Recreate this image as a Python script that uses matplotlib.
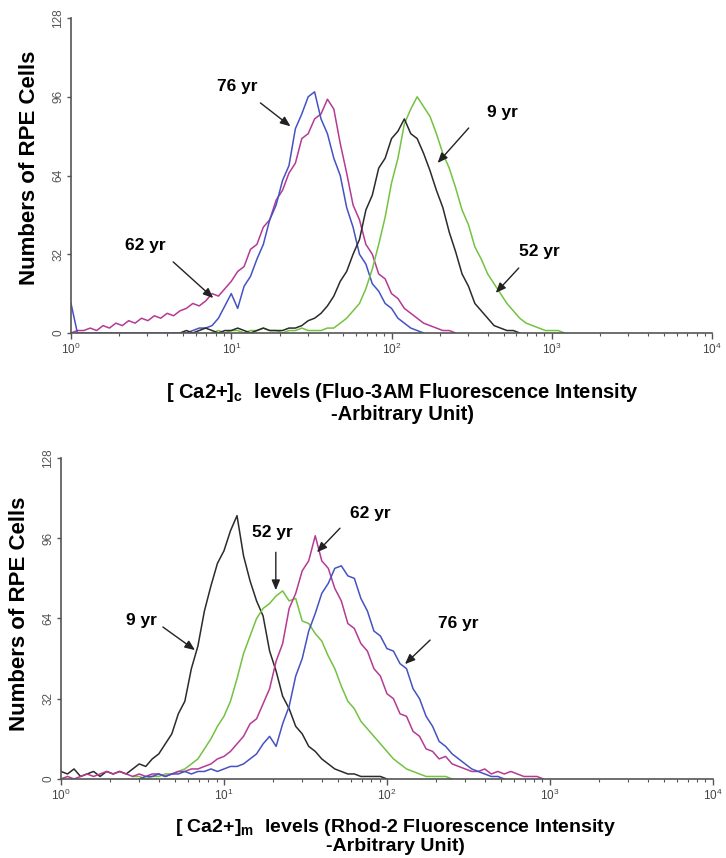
import matplotlib
import matplotlib.pyplot as plt
import numpy as np
from matplotlib.ticker import LogLocator, FixedLocator

matplotlib.use("Agg")

plt.rcParams["font.family"] = ["Liberation Sans", "DejaVu Sans"]
plt.rcParams["mathtext.fontset"] = "custom"
plt.rcParams["mathtext.rm"] = "Liberation Sans"
plt.rcParams["mathtext.bf"] = "Liberation Sans:bold"

# channel spacing of the histograms, in decades
STEP = 0.04

# ---- top panel: cytosolic Ca2+ (Fluo-3AM) ----
TOP_62_START = 0.0
TOP_62 = [0, 1, 1, 2, 1, 3, 2, 4, 3, 5, 4, 6, 5, 7, 6, 8, 7, 9, 10, 12, 11, 13,
          16, 15, 18, 21, 25, 27, 34, 36, 43, 46, 54, 58, 65, 69, 79, 81, 87, 89,
          95, 91, 77, 65, 52, 46, 36, 32, 24, 22, 16, 14, 10, 8, 6, 4, 3, 2, 1, 1, 0]
TOP_76_START = 0.0
TOP_76 = [12] + [0] * 18 + [1, 2, 2, 3, 6, 11, 16, 10, 19, 23, 30, 36, 46, 52, 62,
                            68, 83, 89, 96, 98, 87, 81, 71, 64, 51, 43, 32, 28, 20,
                            17, 12, 10, 6, 4, 2, 1, 0]
TOP_9_START = 0.68
TOP_9 = [0, 1, 0, 1, 2, 1, 0, 1, 1, 2, 1, 0, 1, 2, 1, 1, 1, 2, 2, 3, 5, 6, 8, 11,
         15, 21, 25, 32, 38, 50, 56, 67, 71, 79, 82, 87, 81, 79, 73, 66, 58, 51,
         41, 33, 24, 19, 12, 9, 6, 3, 2, 1, 1, 0]
TOP_52_START = 0.88
TOP_52 = [0, 1, 0, 1, 1, 0, 1, 1, 2, 1, 1, 0, 1, 1, 2, 1, 1, 1, 2, 2, 4, 6, 9, 12,
          18, 26, 36, 47, 61, 71, 85, 91, 96, 92, 88, 81, 73, 67, 59, 50, 44, 35,
          30, 24, 20, 16, 12, 9, 6, 4, 3, 2, 1, 1, 1, 0]

# ---- bottom panel: mitochondrial Ca2+ (Rhod-2) ----
BOT_9_START = 0.0
BOT_9 = [3, 2, 4, 1, 2, 3, 1, 3, 2, 3, 2, 4, 6, 5, 8, 10, 14, 18, 26, 31, 44, 53,
         67, 77, 86, 91, 99, 105, 89, 79, 71, 65, 51, 43, 33, 28, 21, 18, 13, 11,
         8, 6, 4, 3, 2, 2, 1, 1, 1, 1, 0]
BOT_52_START = 0.44
BOT_52 = [1, 1, 0, 1, 1, 2, 2, 3, 4, 6, 8, 12, 16, 21, 25, 31, 40, 50, 57, 64, 68,
          70, 73, 75, 71, 72, 63, 62, 58, 55, 49, 44, 37, 31, 28, 23, 20, 17, 14,
          11, 8, 6, 4, 3, 2, 1, 1, 1, 1, 0]
BOT_62_START = 0.0
BOT_62 = [0, 1, 0, 1, 2, 1, 2, 3, 2, 3, 2, 1, 2, 1, 2, 2, 1, 2, 3, 3, 4, 4, 5, 6,
          8, 9, 11, 14, 17, 22, 24, 30, 36, 47, 54, 68, 74, 83, 87, 97, 87, 84, 76,
          71, 62, 60, 54, 51, 44, 41, 34, 32, 26, 25, 19, 17, 12, 11, 8, 9, 6, 5,
          4, 3, 3, 4, 2, 3, 2, 3, 2, 1, 1, 1, 0]
BOT_76_START = 0.48
BOT_76 = [0, 1, 1, 2, 1, 2, 2, 3, 2, 3, 3, 4, 3, 4, 5, 5, 6, 8, 10, 14, 17, 13,
          22, 29, 41, 48, 59, 66, 74, 78, 84, 85, 81, 80, 72, 67, 59, 57, 52, 51,
          46, 44, 36, 32, 25, 21, 15, 13, 10, 8, 6, 4, 3, 2, 1, 1, 0]

COLORS = {"9": "#2b2b2b", "52": "#74c241", "62": "#b53a93", "76": "#4552c2"}

YLABEL = "Numbers of RPE Cells"
TOP_XLABEL = "[ Ca2+]$_\\mathbf{c}$  levels (Fluo-3AM Fluorescence Intensity\n-Arbitrary Unit)"
BOT_XLABEL = "[ Ca2+]$_\\mathbf{m}$  levels (Rhod-2 Fluorescence Intensity\n-Arbitrary Unit)"


def channels(start, values):
    return 10 ** (start + STEP * np.arange(len(values)))


def style_axes(ax, ylab_x, ylab_y):
    ax.set_xscale("log")
    ax.set_xlim(1, 1e4)
    ax.set_ylim(0, 128)
    for s in ("top", "right"):
        ax.spines[s].set_visible(False)
    for s in ("left", "bottom"):
        ax.spines[s].set_color("#555555")
        ax.spines[s].set_linewidth(1.2)
    ax.yaxis.set_major_locator(FixedLocator([0, 32, 64, 96, 128]))
    ax.xaxis.set_major_locator(LogLocator(base=10, numticks=10))
    ax.xaxis.set_minor_locator(LogLocator(base=10, subs=np.arange(2, 10), numticks=10))
    ax.tick_params(axis="x", which="major", length=4, width=1, colors="#555555",
                   labelsize=8.5, labelcolor="#444444", pad=2)
    ax.tick_params(axis="x", which="minor", length=2.5, width=0.8, colors="#555555")
    ax.tick_params(axis="y", length=3, width=1, colors="#555555", labelsize=8.5,
                   labelcolor="#555555", labelrotation=90, pad=2)
    for lab in ax.get_yticklabels():
        lab.set_verticalalignment("center")
    ax.set_ylabel(YLABEL, fontsize=16, fontweight="bold")
    ax.yaxis.set_label_coords(ylab_x, ylab_y)


def arrow(ax, start, tip):
    ax.annotate("", xy=tip, xytext=start,
                arrowprops=dict(arrowstyle="-|>,head_length=0.6,head_width=0.25",
                                color="#222222", lw=1.0, shrinkA=0, shrinkB=0))


fig = plt.figure(figsize=(7.26, 8.58), dpi=100)

# top panel
ax1 = fig.add_axes([0.0978, 0.6119, 0.883, 0.3671])
style_axes(ax1, -0.048, 0.525)
ax1.plot(channels(TOP_62_START, TOP_62), TOP_62, color=COLORS["62"], lw=1.1)
ax1.plot(channels(TOP_76_START, TOP_76), TOP_76, color=COLORS["76"], lw=1.1)
ax1.plot(channels(TOP_52_START, TOP_52), TOP_52, color=COLORS["52"], lw=1.1)
ax1.plot(channels(TOP_9_START, TOP_9), TOP_9, color=COLORS["9"], lw=1.1)

kw = dict(fontsize=12.5, fontweight="bold", ha="center", va="center")
ax1.text(10.9, 100, "76 yr", **kw)
arrow(ax1, (15.2, 93.5), (23.4, 84))
ax1.text(2.90, 35.4, "62 yr", **kw)
arrow(ax1, (4.34, 28.9), (7.72, 14.2))
ax1.text(494, 89.8, "9 yr", **kw)
arrow(ax1, (303, 83.3), (194, 69.1))
ax1.text(841, 33.3, "52 yr", **kw)
arrow(ax1, (622, 26.4), (447, 16.3))

fig.text(0.555, 0.531, TOP_XLABEL, fontsize=14.5, fontweight="bold",
         ha="center", va="center", linespacing=1.05)

# bottom panel
ax2 = fig.add_axes([0.0840, 0.0921, 0.898, 0.3741])
style_axes(ax2, -0.047, 0.515)
ax2.plot(channels(BOT_9_START, BOT_9), BOT_9, color=COLORS["9"], lw=1.1)
ax2.plot(channels(BOT_52_START, BOT_52), BOT_52, color=COLORS["52"], lw=1.1)
ax2.plot(channels(BOT_62_START, BOT_62), BOT_62, color=COLORS["62"], lw=1.1)
ax2.plot(channels(BOT_76_START, BOT_76), BOT_76, color=COLORS["76"], lw=1.1)

ax2.text(3.10, 63.3, "9 yr", **kw)
arrow(ax2, (4.22, 60.6), (6.64, 51.4))
ax2.text(19.7, 98.4, "52 yr", **kw)
arrow(ax2, (20.8, 90.4), (20.8, 75.3))
ax2.text(78.7, 106, "62 yr", **kw)
arrow(ax2, (51.5, 100), (37.2, 90.4))
ax2.text(273, 62.2, "76 yr", **kw)
arrow(ax2, (184, 55.4), (129, 45.8))

fig.text(0.545, 0.003, BOT_XLABEL, fontsize=14, fontweight="bold",
         ha="center", va="bottom", linespacing=1.05)

fig.savefig("out.png", dpi=100)
